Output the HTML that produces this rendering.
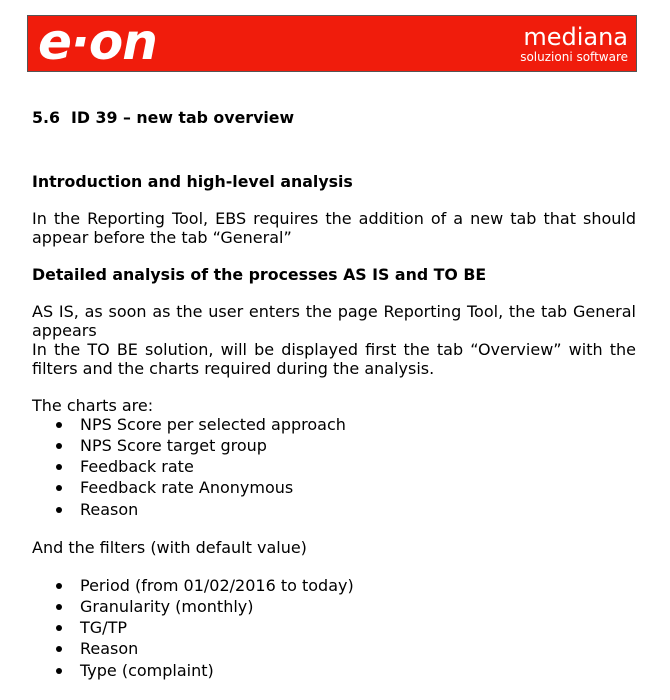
<!DOCTYPE html>
<html><head><meta charset="utf-8">
<style>
html,body{margin:0;padding:0;background:#fff;width:670px;height:700px;overflow:hidden;position:relative;font-family:"DejaVu Sans","Liberation Sans",sans-serif;color:#000}
.l{position:absolute;left:32px;font-size:16px;line-height:20px;white-space:nowrap}
.j{width:604px;text-align:justify;text-align-last:justify;white-space:normal}
.b{font-weight:bold;font-size:15.8px}
.bul{left:80px}
.dot{position:absolute;left:56px;width:6px;height:6px;border-radius:50%;background:#000}
#banner{position:absolute;left:27px;top:15px;width:610px;height:57px;background:#f01c0c;border:1px solid #555;box-sizing:border-box}
</style></head><body>
<div id="banner">
  <div style="position:absolute;left:10px;top:-3px;color:#fff;font:italic bold 50px 'DejaVu Sans',sans-serif;letter-spacing:-1px">e·on</div>
  <div style="position:absolute;right:8px;top:7px;color:#fff;font:24px 'DejaVu Sans',sans-serif">mediana</div>
  <div style="position:absolute;right:8px;top:34px;color:#fff;font:12px 'DejaVu Sans',sans-serif">soluzioni software</div>
</div>
<div class="l b" style="top:108px">5.6&nbsp; ID 39 – new tab overview</div>
<div class="l b" style="top:172px">Introduction and high-level analysis</div>
<div class="l j" style="top:209px">In the Reporting Tool, EBS requires the addition of a new tab that should</div>
<div class="l" style="top:228px">appear before the tab “General”</div>
<div class="l b" style="top:265px">Detailed analysis of the processes AS IS and TO BE</div>
<div class="l j" style="top:302px">AS IS, as soon as the user enters the page Reporting Tool, the tab General</div>
<div class="l" style="top:321px">appears</div>
<div class="l j" style="top:340px">In the TO BE solution, will be displayed first the tab “Overview” with the</div>
<div class="l" style="top:359px">filters and the charts required during the analysis.</div>
<div class="l" style="top:396px">The charts are:</div>
<div class="dot" style="top:422px"></div><div class="l bul" style="top:415px">NPS Score per selected approach</div>
<div class="dot" style="top:443px"></div><div class="l bul" style="top:436px">NPS Score target group</div>
<div class="dot" style="top:464px"></div><div class="l bul" style="top:457px">Feedback rate</div>
<div class="dot" style="top:485px"></div><div class="l bul" style="top:478px">Feedback rate Anonymous</div>
<div class="dot" style="top:507px"></div><div class="l bul" style="top:500px">Reason</div>
<div class="l" style="top:538px">And the filters (with default value)</div>
<div class="dot" style="top:583px"></div><div class="l bul" style="top:576px">Period (from 01/02/2016 to today)</div>
<div class="dot" style="top:604px"></div><div class="l bul" style="top:597px">Granularity (monthly)</div>
<div class="dot" style="top:625px"></div><div class="l bul" style="top:618px">TG/TP</div>
<div class="dot" style="top:646px"></div><div class="l bul" style="top:639px">Reason</div>
<div class="dot" style="top:668px"></div><div class="l bul" style="top:661px">Type (complaint)</div>
</body></html>
